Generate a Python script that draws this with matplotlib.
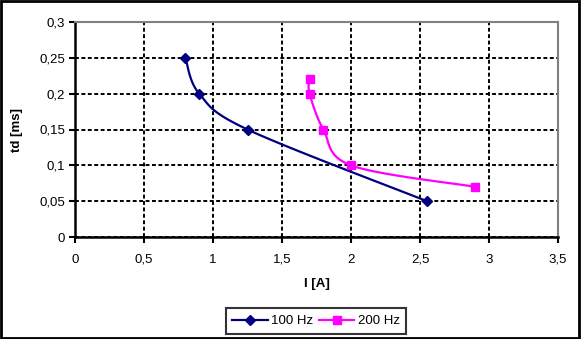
import numpy as np
import matplotlib
matplotlib.use("Agg")
import matplotlib.pyplot as plt
from matplotlib.ticker import FuncFormatter

plt.rcParams['font.family'] = ['Liberation Sans', 'DejaVu Sans']

# data
i_100 = [0.8, 0.9, 1.25, 2.55]
td_100 = [0.25, 0.2, 0.15, 0.05]
i_200 = [1.7, 1.7, 1.8, 2.0, 2.9]
td_200 = [0.22, 0.2, 0.15, 0.1, 0.07]
labels = ["100 Hz", "200 Hz"]

XMAX, YMAX = 3.5, 0.3


def smooth(xs, ys, n=30):
  # Excel-like smoothed line: cubic bezier with catmull-rom control points,
  # computed in axis-normalised space
  p = np.column_stack([np.array(xs) / XMAX * 483, np.array(ys) / YMAX * 215])
  out = [p[0]]
  for k in range(len(p) - 1):
    p0 = p[k - 1] if k > 0 else p[k]
    p3 = p[k + 2] if k + 2 < len(p) else p[k + 1]
    p1, p2 = p[k], p[k + 1]
    c1 = p1 + (p2 - p0) / 6
    c2 = p2 - (p3 - p1) / 6
    t = np.linspace(0, 1, n)[1:, None]
    seg = (1 - t) ** 3 * p1 + 3 * (1 - t) ** 2 * t * c1 + 3 * (1 - t) * t ** 2 * c2 + t ** 3 * p2
    out.extend(seg)
  out = np.array(out)
  return out[:, 0] / 483 * XMAX, out[:, 1] / 215 * YMAX


fig = plt.figure(figsize=(5.81, 3.39), dpi=100)
ax = fig.add_axes([75 / 581, 1 - 237 / 339, 483 / 581, 215 / 339])

sx, sy = smooth(i_100, td_100)
ax.plot(sx, sy, color="#000080", lw=1.6, zorder=3)
ax.plot(i_100, td_100, ls="none", marker="D", ms=5, color="#000080", zorder=4)
sx, sy = smooth(i_200, td_200)
ax.plot(sx, sy, color="#FF00FF", lw=1.6, zorder=3)
ax.plot(i_200, td_200, ls="none", marker="s", ms=6, color="#FF00FF", zorder=4)

ax.set_xlim(0, XMAX)
ax.set_ylim(0, YMAX)
ax.set_xticks(np.arange(0, 3.51, 0.5))
ax.set_yticks(np.arange(0, 0.301, 0.05))
fmt = FuncFormatter(lambda v, pos: ("%g" % round(v, 3)).replace(".", ","))
ax.xaxis.set_major_formatter(fmt)
ax.yaxis.set_major_formatter(fmt)
ax.tick_params(direction="out", length=4, width=1.5, labelsize=9.5, colors="black", pad=8)
ax.tick_params(axis="y", pad=3)
ax.grid(True, color="black", ls=(0, (2, 1.3)), lw=1.4)
ax.set_axisbelow(True)
for s in ["left", "bottom"]:
  ax.spines[s].set_color("black")
  ax.spines[s].set_linewidth(1.8)
for s in ["top", "right"]:
  ax.spines[s].set_color("#808080")
  ax.spines[s].set_linewidth(1.5)

ax.set_xlabel("I [A]", fontsize=9.5, fontweight="bold", labelpad=9)
ax.set_ylabel("td [ms]", fontsize=9.5, fontweight="bold", labelpad=12)

h1 = plt.Line2D([], [], color="#000080", lw=1.6, marker="D", ms=5)
h2 = plt.Line2D([], [], color="#FF00FF", lw=1.6, marker="s", ms=6)
leg = fig.legend([h1, h2], labels, loc="center", bbox_to_anchor=(316 / 581, 1 - 321 / 339),
                 ncol=2, fontsize=9.5, frameon=True, fancybox=False, edgecolor="black",
                 handlelength=2.7, handletextpad=0.25, columnspacing=0.4,
                 borderpad=0.5, borderaxespad=0)
leg.get_frame().set_linewidth(1.5)

fig.patches.append(plt.Rectangle((0.002, 0.003), 0.994, 0.994, transform=fig.transFigure,
                                 fill=False, edgecolor="black", lw=2))

fig.savefig("out.png", dpi=100)
